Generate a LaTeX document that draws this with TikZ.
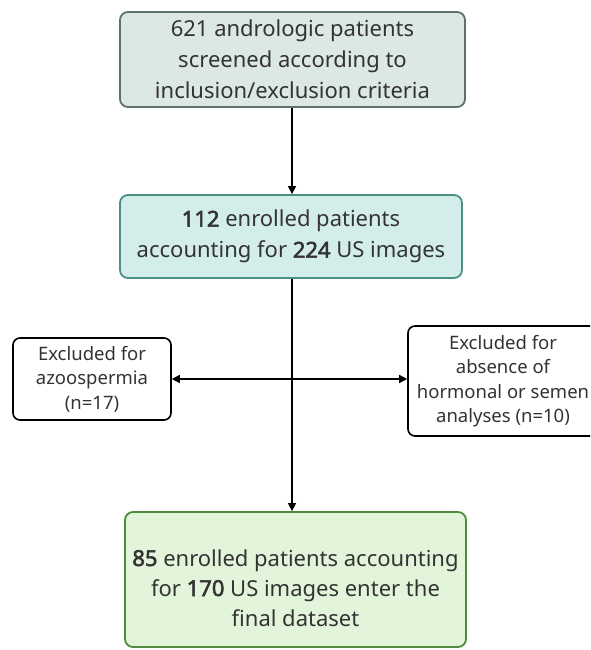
\documentclass[tikz,border=0pt]{standalone}
\usepackage{fontspec}
\setmainfont{Noto Sans}[AutoFakeBold=2.5]
\usetikzlibrary{arrows.meta}
\definecolor{textgray}{HTML}{333333}
\definecolor{screenfill}{HTML}{DCE8E5}
\definecolor{screenline}{HTML}{5F706C}
\definecolor{enrolfill}{HTML}{D3EEEA}
\definecolor{enrolline}{HTML}{4B8F85}
\definecolor{finalfill}{HTML}{E2F5DA}
\definecolor{finalline}{HTML}{4E8B3C}
\tikzset{
  flowbox/.style={draw, rounded corners=8pt, line width=1.8pt, align=center,
    text=textgray, inner sep=0pt, font=\fontsize{22}{31}\selectfont},
  exclbox/.style={draw=black, fill=white, rounded corners=7pt, line width=1.6pt,
    align=center, text=textgray, inner sep=0pt, font=\fontsize{18.5}{24.5}\selectfont},
  flowline/.style={line width=1.4pt, -{Triangle[length=8pt,width=8pt]}}
}
\begin{document}
\begin{tikzpicture}[x=1pt,y=-1pt]
  \useasboundingbox (0,0) rectangle (590,650);
  \clip (0,0) rectangle (590,650);
  % main column
  \node[flowbox, draw=screenline, fill=screenfill, minimum width=345pt, minimum height=95pt]
    (screen) at (292.5,59.5) {621 andrologic patients\\screened according to\\inclusion/exclusion criteria};
  \node[flowbox, draw=enrolline, fill=enrolfill, minimum width=342pt, minimum height=83pt]
    (enrol) at (291,236.5) {\textbf{112} enrolled patients\\accounting for \textbf{224} US images};
  \node[flowbox, draw=finalline, fill=finalfill, minimum width=341pt, minimum height=135pt,
    font=\fontsize{22}{30}\selectfont, text height=93pt, text depth=0pt]
    (final) at (295.5,579.5) {\textbf{85} enrolled patients accounting\\for \textbf{170} US images enter the\\final dataset};
  % exclusions
  \node[exclbox, minimum width=158pt, minimum height=82pt]
    (azoo) at (92,379) {Excluded for\\azoospermia\\(n=17)};
  \node[exclbox, minimum width=190pt, minimum height=110pt]
    (hormo) at (503,381) {Excluded for\\absence of\\hormonal or semen\\analyses (n=10)};
  % connectors
  \draw[flowline] (screen.south -| 292,0) -- (enrol.north -| 292,0);
  \draw[flowline] (enrol.south -| 292,0) -- (final.north -| 292,0);
  \draw[line width=1.4pt, {Triangle[length=8pt,width=8pt]}-{Triangle[length=8pt,width=8pt]}]
    (azoo.east) -- (hormo.west |- azoo.east);
\end{tikzpicture}
\end{document}
